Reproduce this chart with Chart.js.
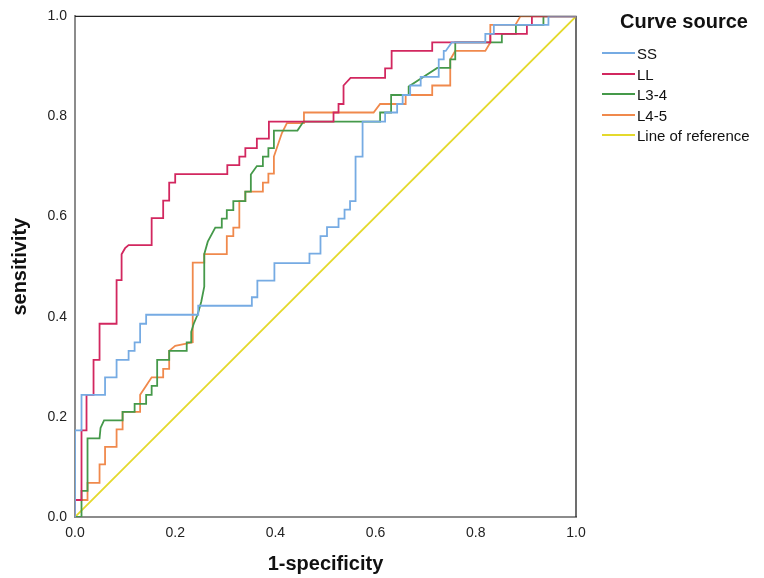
<!DOCTYPE html>
<html>
<head>
<meta charset="utf-8">
<script src="https://cdn.jsdelivr.net/npm/chart.js@4.4.1/dist/chart.umd.min.js"></script>
<style>
body { margin: 0; background: #fff; font-family: "Liberation Sans", Arial, sans-serif; }
#wrap { position: relative; width: 764px; height: 578px; }
#legenda { position: absolute; left: 600px; top: 0; width: 164px; color: #111; }
#legenda .titulo { position: absolute; left: 0; top: 10px; width: 168px; text-align: center; font-weight: bold; font-size: 20px; }
#legenda .item { position: absolute; left: 2px; height: 18px; font-size: 15px; line-height: 18px; white-space: nowrap; }
#legenda .traco { display: inline-block; width: 33px; height: 2px; vertical-align: middle; margin-right: 2px; position: relative; top: -2px; }
</style>
</head>
<body>
<div id="wrap">
  <canvas id="graficoRoc" width="764" height="578"></canvas>
  <div id="legenda"></div>
</div>
<script>
// pontos da curva ROC: [1-especificidade, sensibilidade]
const ssPontos = [[0,0],[0,0.173],[0.013,0.173],[0.013,0.244],[0.06,0.244],[0.06,0.279],[0.083,0.279],[0.083,0.314],[0.107,0.314],[0.107,0.332],[0.119,0.332],[0.119,0.349],[0.13,0.349],[0.13,0.386],[0.142,0.386],[0.142,0.404],[0.246,0.404],[0.246,0.422],[0.353,0.422],[0.353,0.439],[0.364,0.439],[0.364,0.472],[0.398,0.472],[0.398,0.507],[0.468,0.507],[0.468,0.526],[0.49,0.526],[0.49,0.561],[0.503,0.561],[0.503,0.579],[0.526,0.579],[0.526,0.596],[0.538,0.596],[0.538,0.614],[0.549,0.614],[0.549,0.631],[0.56,0.631],[0.56,0.72],[0.574,0.72],[0.574,0.79],[0.619,0.79],[0.619,0.808],[0.643,0.808],[0.643,0.825],[0.654,0.825],[0.654,0.843],[0.669,0.843],[0.669,0.862],[0.69,0.862],[0.69,0.879],[0.726,0.879],[0.726,0.914],[0.736,0.914],[0.736,0.931],[0.74,0.931],[0.752,0.948],[0.819,0.948],[0.819,0.965],[0.836,0.965],[0.836,0.983],[0.945,0.983],[0.945,1],[1,1]];

const llPontos = [[0,0],[0,0.034],[0.013,0.034],[0.013,0.173],[0.023,0.173],[0.023,0.244],[0.037,0.244],[0.037,0.314],[0.049,0.314],[0.049,0.386],[0.083,0.386],[0.083,0.473],[0.093,0.473],[0.093,0.525],[0.1,0.537],[0.107,0.543],[0.153,0.543],[0.153,0.597],[0.176,0.597],[0.176,0.632],[0.188,0.632],[0.188,0.668],[0.2,0.668],[0.2,0.685],[0.304,0.685],[0.304,0.703],[0.328,0.703],[0.328,0.72],[0.34,0.72],[0.34,0.737],[0.363,0.737],[0.363,0.756],[0.387,0.756],[0.387,0.79],[0.516,0.79],[0.516,0.808],[0.526,0.808],[0.526,0.825],[0.536,0.825],[0.536,0.862],[0.55,0.877],[0.619,0.877],[0.619,0.896],[0.632,0.896],[0.632,0.931],[0.713,0.931],[0.713,0.948],[0.829,0.948],[0.829,0.965],[0.902,0.965],[0.902,0.983],[0.912,0.983],[0.912,1],[1,1]];

const l34Pontos = [[0,0],[0.013,0],[0.013,0.052],[0.025,0.052],[0.025,0.157],[0.049,0.157],[0.051,0.178],[0.058,0.193],[0.095,0.193],[0.095,0.21],[0.119,0.21],[0.119,0.226],[0.142,0.226],[0.142,0.244],[0.153,0.244],[0.153,0.262],[0.164,0.262],[0.164,0.314],[0.188,0.314],[0.188,0.332],[0.223,0.332],[0.223,0.349],[0.232,0.349],[0.232,0.37],[0.237,0.386],[0.245,0.405],[0.252,0.43],[0.258,0.46],[0.258,0.525],[0.265,0.55],[0.28,0.578],[0.293,0.578],[0.293,0.596],[0.303,0.596],[0.303,0.613],[0.316,0.613],[0.316,0.631],[0.34,0.631],[0.34,0.65],[0.351,0.65],[0.351,0.684],[0.363,0.701],[0.375,0.701],[0.375,0.72],[0.386,0.72],[0.386,0.737],[0.397,0.737],[0.397,0.772],[0.444,0.772],[0.456,0.79],[0.609,0.79],[0.609,0.808],[0.631,0.808],[0.631,0.843],[0.666,0.843],[0.666,0.86],[0.723,0.897],[0.749,0.897],[0.749,0.914],[0.759,0.914],[0.759,0.948],[0.852,0.948],[0.852,0.965],[0.88,0.965],[0.88,0.983],[0.935,0.983],[0.935,1],[1,1]];

const l45Pontos = [[0,0],[0,0.034],[0.025,0.034],[0.025,0.068],[0.049,0.068],[0.049,0.105],[0.06,0.105],[0.06,0.14],[0.083,0.14],[0.083,0.175],[0.095,0.175],[0.095,0.21],[0.13,0.21],[0.13,0.244],[0.142,0.262],[0.153,0.279],[0.176,0.279],[0.176,0.296],[0.188,0.296],[0.188,0.332],[0.2,0.342],[0.235,0.349],[0.235,0.508],[0.258,0.508],[0.258,0.525],[0.303,0.525],[0.303,0.561],[0.316,0.561],[0.316,0.578],[0.328,0.578],[0.328,0.631],[0.34,0.631],[0.34,0.65],[0.375,0.65],[0.375,0.668],[0.386,0.668],[0.386,0.686],[0.397,0.686],[0.397,0.72],[0.413,0.767],[0.423,0.787],[0.457,0.787],[0.457,0.808],[0.596,0.808],[0.609,0.825],[0.66,0.825],[0.66,0.843],[0.713,0.843],[0.713,0.862],[0.749,0.862],[0.749,0.914],[0.759,0.931],[0.819,0.931],[0.829,0.948],[0.829,0.983],[0.879,0.983],[0.889,1],[1,1]];

const refPontos = [[0,0],[1,1]];

const nomes = ["SS", "LL", "L3-4", "L4-5", "Line of reference"];
const cores = ["#76abe3", "#d2275f", "#45994a", "#f0894c", "#e4d92c"];
const tickLabels = ["0.0", "0.2", "0.4", "0.6", "0.8", "1.0"];

function paraXY(pontos) {
    return pontos.map(p => ({ x: p[0], y: p[1] }));
}

const series = [ssPontos, llPontos, l34Pontos, l45Pontos, refPontos];

// moldura de cima e da direita (estilo SPSS)
const moldura = {
    id: "moldura",
    beforeDatasetsDraw(chart) {
        const { ctx, chartArea: a } = chart;
        ctx.save();
        ctx.strokeStyle = "#222";
        ctx.lineWidth = 1.3;
        ctx.beginPath();
        ctx.moveTo(a.left, a.top);
        ctx.lineTo(a.right, a.top);
        ctx.lineTo(a.right, a.bottom);
        ctx.stroke();
        ctx.restore();
    }
};

const fonteTick = { family: "'Liberation Sans', Arial, sans-serif", size: 14 };
const fonteTitulo = { family: "'Liberation Sans', Arial, sans-serif", size: 20, weight: "bold" };

const chart = new Chart(document.getElementById("graficoRoc"), {
    type: "scatter",
    data: {
        datasets: series.map((pts, i) => ({
            label: nomes[i],
            data: paraXY(pts),
            showLine: true,
            borderColor: cores[i],
            backgroundColor: cores[i],
            borderWidth: 1.8,
            pointRadius: 0,
            tension: 0
        }))
    },
    options: {
        responsive: false,
        animation: false,
        layout: { padding: { top: 15, right: 188, left: 0, bottom: 0 } },
        plugins: {
            legend: { display: false },
            tooltip: { enabled: false }
        },
        scales: {
            x: {
                type: "linear",
                min: 0,
                max: 1,
                grid: { display: false, drawTicks: false },
                border: { color: "#8c8c8c", width: 2 },
                ticks: {
                    stepSize: 0.2,
                    padding: 8,
                    color: "#222",
                    font: fonteTick,
                    maxRotation: 0,
                    callback: (v, i) => tickLabels[i]
                },
                title: { display: true, text: "1-specificity", color: "#111", font: fonteTitulo, padding: { top: 0, bottom: 2 } },
                afterFit(s) { s.height = 61; }
            },
            y: {
                type: "linear",
                min: 0,
                max: 1,
                grid: { display: false, drawTicks: false },
                border: { color: "#8c8c8c", width: 2 },
                ticks: {
                    stepSize: 0.2,
                    padding: 8,
                    color: "#222",
                    font: fonteTick,
                    callback: (v, i) => tickLabels[i]
                },
                title: { display: true, text: "sensitivity", color: "#111", font: fonteTitulo, padding: { top: 8, bottom: 0 } },
                afterFit(s) { s.width = 75; }
            }
        }
    },
    plugins: [moldura]
});

// legenda em HTML, montada a partir dos datasets
function montarLegenda() {
    const div = document.getElementById("legenda");
    let html = '<div class="titulo">Curve source</div>';
    chart.data.datasets.forEach((ds, i) => {
        const topo = 45 + i * 20.5;
        html += '<div class="item" style="top:' + topo + 'px"><span class="traco" style="background:' + ds.borderColor + '"></span>' + ds.label + '</div>';
    });
    div.innerHTML = html;
}
montarLegenda();
</script>
</body>
</html>
